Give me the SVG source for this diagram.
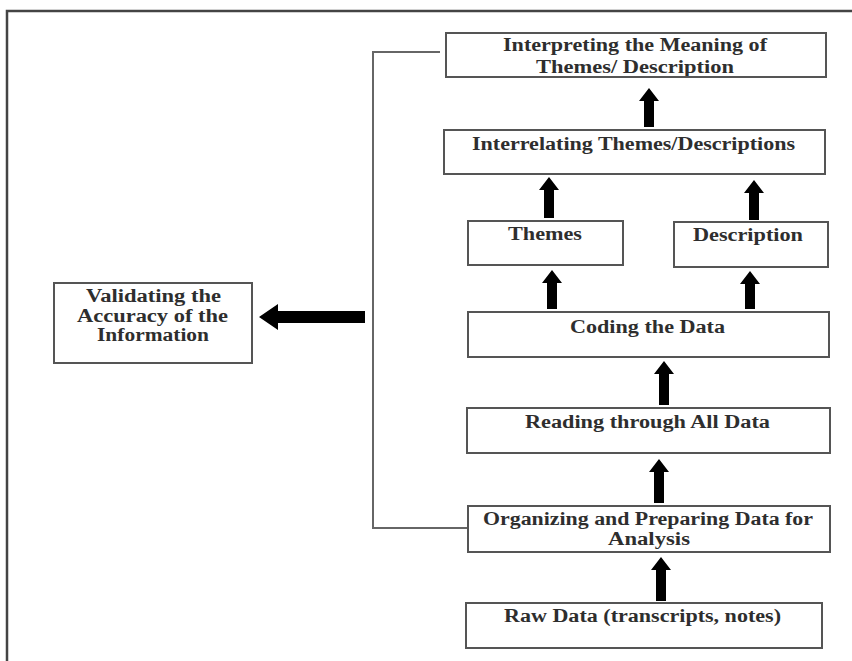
<svg xmlns="http://www.w3.org/2000/svg" width="852" height="661" viewBox="0 0 852 661">
  <style>
    .box { fill: #ffffff; stroke: #555555; stroke-width: 2; }
    .lbl { font-family: "Liberation Serif", "Times New Roman", serif; font-size: 18px; font-weight: bold; fill: #2e2e2e; text-anchor: start; }
    .frame { fill: none; stroke: #444444; stroke-width: 2.5; }
    .link { fill: none; stroke: #666666; stroke-width: 2; }
    .arrow { fill: #000000; }
  </style>
  <defs>
    <clipPath id="clip-interpret"><rect x="447" y="34" width="378" height="42"/></clipPath>
    <clipPath id="clip-organize"><rect x="469" y="507" width="360" height="44"/></clipPath>
  </defs>

  <rect width="852" height="661" fill="#ffffff"/>

  <!-- outer frame -->
  <path class="frame" d="M7,661 V11 H852"/>

  <!-- connectors -->
  <g id="connectors">
    <!-- feedback bracket from preparing step to interpretation -->
    <path class="link" d="M440,52 H373 V528 H468"/>
    <!-- upward flow arrows -->
    <polygon class="arrow" points="649,88 659,101 654,101 654,127 644,127 644,101 639,101"/>
    <polygon class="arrow" points="549,177 559,190 554,190 554,218 544,218 544,190 539,190"/>
    <polygon class="arrow" points="754,180 764,193 759,193 759,220 749,220 749,193 744,193"/>
    <polygon class="arrow" points="552,270 562,283 557,283 557,309 547,309 547,283 542,283"/>
    <polygon class="arrow" points="750,271 760,284 755,284 755,309 745,309 745,284 740,284"/>
    <polygon class="arrow" points="664,361 674,374 669,374 669,405 659,405 659,374 654,374"/>
    <polygon class="arrow" points="659,459 669,472 664,472 664,503 654,503 654,472 649,472"/>
    <polygon class="arrow" points="661,557 671,570 666,570 666,601 656,601 656,570 651,570"/>
    <!-- arrow to validation -->
    <polygon class="arrow" points="259,317 278,304 278,311 365,311 365,323 278,323 278,330"/>
  </g>

  <g id="node-interpret">
    <rect class="box" x="446" y="33" width="380" height="44"/>
    <g clip-path="url(#clip-interpret)">
      <text class="lbl" x="503" y="51" textLength="264" lengthAdjust="spacingAndGlyphs">Interpreting the Meaning of</text>
      <text class="lbl" x="536" y="73" textLength="198" lengthAdjust="spacingAndGlyphs">Themes/ Description</text>
    </g>
  </g>

  <g id="node-interrelate">
    <rect class="box" x="444" y="130" width="381" height="44"/>
    <text class="lbl" x="472" y="150" textLength="323" lengthAdjust="spacingAndGlyphs">Interrelating Themes/Descriptions</text>
  </g>

  <g id="node-themes">
    <rect class="box" x="468" y="221" width="155" height="44"/>
    <text class="lbl" x="508" y="240" textLength="74" lengthAdjust="spacingAndGlyphs">Themes</text>
  </g>

  <g id="node-description">
    <rect class="box" x="674" y="222" width="154" height="45"/>
    <text class="lbl" x="693" y="241" textLength="110" lengthAdjust="spacingAndGlyphs">Description</text>
  </g>

  <g id="node-coding">
    <rect class="box" x="468" y="312" width="361" height="45"/>
    <text class="lbl" x="570" y="333" textLength="155" lengthAdjust="spacingAndGlyphs">Coding the Data</text>
  </g>

  <g id="node-reading">
    <rect class="box" x="467" y="408" width="363" height="45"/>
    <text class="lbl" x="525" y="428" textLength="245" lengthAdjust="spacingAndGlyphs">Reading through All Data</text>
  </g>

  <g id="node-organize">
    <rect class="box" x="468" y="506" width="362" height="46"/>
    <g clip-path="url(#clip-organize)">
      <text class="lbl" x="483" y="525" textLength="330" lengthAdjust="spacingAndGlyphs">Organizing and Preparing Data for</text>
      <text class="lbl" x="608" y="545" textLength="82" lengthAdjust="spacingAndGlyphs">Analysis</text>
    </g>
  </g>

  <g id="node-raw">
    <rect class="box" x="466" y="603" width="356" height="45"/>
    <text class="lbl" x="504" y="622" textLength="277" lengthAdjust="spacingAndGlyphs">Raw Data (transcripts, notes)</text>
  </g>

  <g id="node-validate">
    <rect class="box" x="54" y="283" width="198" height="80"/>
    <text class="lbl" x="86" y="302" textLength="135" lengthAdjust="spacingAndGlyphs">Validating the</text>
    <text class="lbl" x="77" y="322" textLength="151" lengthAdjust="spacingAndGlyphs">Accuracy of the</text>
    <text class="lbl" x="97" y="341" textLength="112" lengthAdjust="spacingAndGlyphs">Information</text>
  </g>
</svg>
